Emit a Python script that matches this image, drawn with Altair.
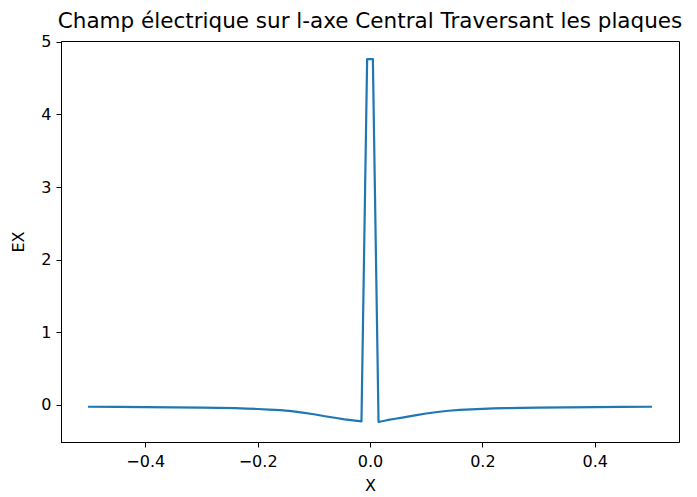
import altair as alt
import pandas as pd

x_vals = [-0.5, -0.45, -0.4, -0.35, -0.3, -0.27, -0.24, -0.22, -0.2, -0.18,
          -0.16, -0.14, -0.12, -0.1, -0.08, -0.06, -0.045, -0.03, -0.0152,
          -0.0051, 0.0051,
          0.0152, 0.03, 0.045, 0.06, 0.08, 0.1, 0.12, 0.14, 0.16, 0.18,
          0.2, 0.22, 0.24, 0.27, 0.3, 0.35, 0.4, 0.45, 0.5]
ex_vals = [-0.025, -0.027, -0.029, -0.032, -0.036, -0.04, -0.045, -0.05, -0.056, -0.063,
           -0.072, -0.085, -0.105, -0.128, -0.155, -0.18, -0.198, -0.213, -0.226,
           4.76, 4.76,
           -0.235, -0.21, -0.19, -0.17, -0.144, -0.118, -0.097, -0.08, -0.068, -0.06,
           -0.053, -0.048, -0.044, -0.04, -0.036, -0.032, -0.029, -0.027, -0.025]

x_ticks = [-0.4, -0.2, 0.0, 0.2, 0.4]
y_ticks = [0, 1, 2, 3, 4, 5]

df = pd.DataFrame({"X": x_vals, "EX": ex_vals})

FONT = "DejaVu Sans"

chart = alt.Chart(df).mark_line(color="#1f77b4", strokeWidth=2.2, strokeJoin="round", strokeCap="square").encode(
    x=alt.X("X:Q", scale=alt.Scale(domain=[-0.55, 0.55], nice=False, zero=False),
            axis=alt.Axis(values=x_ticks, format=".1f", title="X", grid=False,
                          domainColor="black", tickColor="black", tickSize=5,
                          labelFont=FONT, labelFontSize=16, labelColor="black",
                          labelPadding=6, titleFont=FONT, titleFontSize=16,
                          titleFontWeight="normal", titleColor="black", titlePadding=8)),
    y=alt.Y("EX:Q", scale=alt.Scale(domain=[-0.51, 5.01], nice=False, zero=False),
            axis=alt.Axis(values=y_ticks, format="d", title="EX", grid=False,
                          domainColor="black", tickColor="black", tickSize=5,
                          labelFont=FONT, labelFontSize=16, labelColor="black",
                          labelPadding=5, titleFont=FONT, titleFontSize=16,
                          titleFontWeight="normal", titleColor="black", titlePadding=14)),
    order=alt.Order("X:Q"),
).properties(
    width=618,
    height=401,
    title=alt.TitleParams("Champ électrique sur l-axe Central Traversant les plaques",
                          font=FONT, fontSize=21.5, fontWeight="normal", color="black",
                          anchor="middle", offset=1),
    autosize=alt.AutoSizeParams(type="none"),
    padding={"left": 53, "top": 33, "right": 10, "bottom": 54},
).configure_view(stroke="black", strokeWidth=1)

chart.save("out.html", embed_options={"renderer": "svg", "actions": False})
